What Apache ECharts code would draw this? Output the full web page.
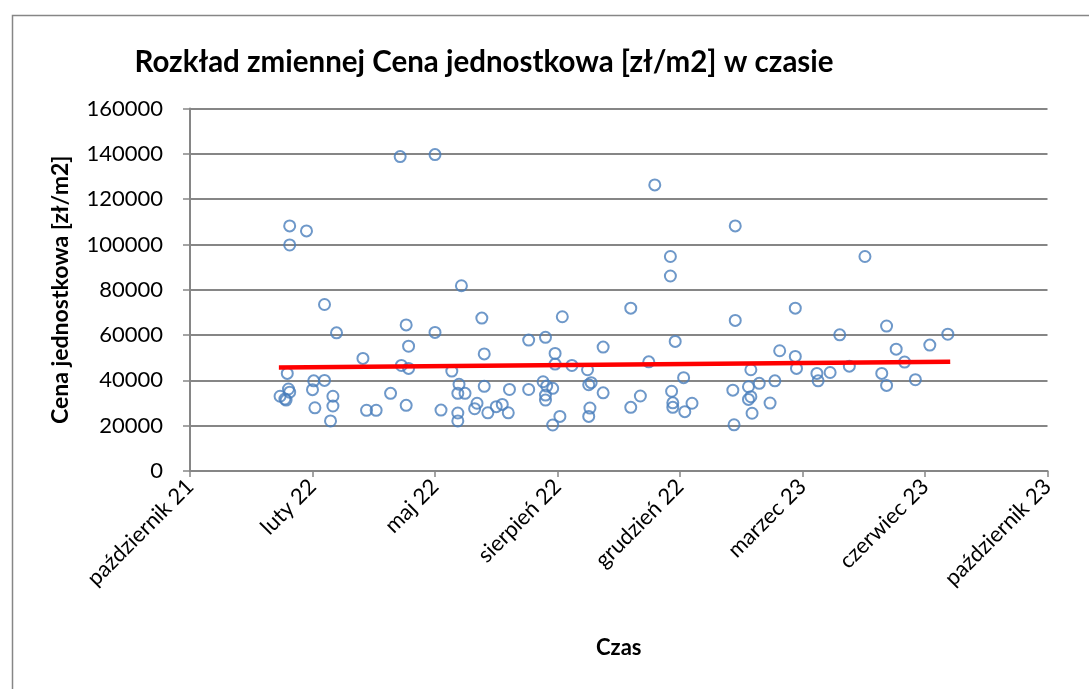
<!DOCTYPE html>
<html>
<head>
<meta charset="utf-8">
<script src="https://cdn.jsdelivr.net/npm/echarts@6/dist/echarts.min.js"></script>
<style>
html,body{margin:0;padding:0;background:#fff;}
#chart{width:1089px;height:689px;}
</style>
</head>
<body>
<div id="chart"></div>
<script>
// Daty ofert (oś X) i ceny jednostkowe [zł/m2] (oś Y)
const dates = [
 '2022-01-08','2022-01-12','2022-01-13','2022-01-15','2022-01-16','2022-01-14','2022-01-16','2022-01-16','2022-01-30','2022-02-04',
 '2022-02-05','2022-02-06','2022-02-14','2022-02-14','2022-02-19','2022-02-21','2022-02-21','2022-02-24','2022-03-18','2022-03-21',
 '2022-03-29','2022-04-10','2022-04-18','2022-04-19','2022-04-23','2022-04-23','2022-04-25','2022-04-25','2022-05-17','2022-05-17',
 '2022-05-22','2022-05-31','2022-06-06','2022-06-05','2022-06-05','2022-06-05','2022-06-08','2022-06-11','2022-06-19','2022-06-21',
 '2022-06-25','2022-06-27','2022-06-27','2022-06-30','2022-07-07','2022-07-12','2022-07-17','2022-07-18','2022-08-03','2022-08-03',
 '2022-08-15','2022-08-17','2022-08-18','2022-08-17','2022-08-17','2022-08-23','2022-08-23','2022-08-25','2022-08-25','2022-08-29',
 '2022-08-31','2022-09-08','2022-09-21','2022-09-22','2022-09-24','2022-09-22','2022-09-23','2022-10-04','2022-10-04','2022-10-27',
 '2022-10-27','2022-11-04','2022-11-11','2022-11-16','2022-11-29','2022-11-29','2022-11-30','2022-12-01','2022-12-01','2022-12-03',
 '2022-12-10','2022-12-11','2022-12-17','2023-01-20','2023-01-21','2023-01-22','2023-01-22','2023-02-02','2023-02-02','2023-02-04',
 '2023-02-04','2023-02-05','2023-02-11','2023-02-20','2023-02-24','2023-02-28','2023-03-13','2023-03-13','2023-03-14','2023-03-31',
 '2023-04-01','2023-04-11','2023-04-19','2023-04-27','2023-05-10','2023-05-24','2023-05-28','2023-05-28','2023-06-05','2023-06-12',
 '2023-06-21','2023-07-03','2023-07-18'
];
const prices = [
 33000,31800,31300,36200,34800,43100,99800,108200,106000,35900,
 39800,27900,73500,40000,22100,33000,28700,61000,49700,26800,
 26800,34300,138800,46600,29000,64500,55100,45300,61200,139700,
 26900,44100,38300,34300,25600,22100,81800,34300,27500,29900,
 67500,51700,37400,25700,28400,29400,25700,36000,57800,36000,
 39400,59000,37500,33500,31300,20300,36500,51900,47200,24100,
 68100,46600,44700,38100,39000,24100,27800,54700,34500,71900,
 28100,33100,48200,126300,94700,86100,35200,30100,28100,57200,
 41200,26200,29900,35700,20400,108200,66500,31600,37200,44700,
 32800,25500,38700,30000,39800,53100,71900,50600,45300,43100,
 39800,43500,60100,46300,94700,43100,64000,37800,53800,48100,
 40300,55600,60400
];
// Linia trendu (odczytane końce)
const trendDates = ['2022-01-07', '2023-07-20'];
const trendValues = [45700, 48200];
// Etykiety osi X
const axisStart = '2021-10-25';
const tickStepDays = 102;
const xTickLabels = ['październik 21','luty 22','maj 22','sierpień 22','grudzień 22','marzec 23','czerwiec 23','październik 23'];
const yTicks = [0,20000,40000,60000,80000,100000,120000,140000,160000];

const DAY = 86400000;
const base = Date.parse(axisStart + 'T00:00:00Z');
const toDays = d => (Date.parse(d + 'T00:00:00Z') - base) / DAY;

const scatterData = dates.map((d, i) => [toDays(d), prices[i]]);
const trendData = trendDates.map((d, i) => [toDays(d), trendValues[i]]);

const FONT = 'Lato';
const chart = echarts.init(document.getElementById('chart'), null, {renderer: 'canvas'});
chart.setOption({
  backgroundColor: '#fff',
  animation: false,
  graphic: [{
    type: 'rect',
    shape: {x: 12.5, y: 15.5, width: 1200, height: 800},
    style: {fill: 'none', stroke: '#868686', lineWidth: 1.5},
    silent: true, z: -10
  }],
  title: {
    text: 'Rozkład zmiennej Cena jednostkowa [zł/m2] w czasie',
    left: 479, top: 42, textAlign: 'center',
    textStyle: {fontFamily: FONT, fontWeight: 'bold', fontSize: 29.5, color: '#000'}
  },
  grid: {left: 190, right: 41.5, top: 108.6, bottom: 218, containLabel: false},
  xAxis: {
    type: 'value',
    min: 0, max: tickStepDays * (xTickLabels.length - 1), interval: tickStepDays,
    name: 'Czas', nameLocation: 'middle', nameGap: 166,
    nameTextStyle: {fontFamily: FONT, fontWeight: 'bold', fontSize: 22, color: '#000'},
    axisLine: {show: true, onZero: false, lineStyle: {color: '#868686', width: 2}},
    axisTick: {show: true, length: 6, lineStyle: {color: '#868686', width: 1.5}},
    splitLine: {show: false},
    axisLabel: {
      rotate: 45, margin: 12, color: '#000', fontFamily: FONT, fontSize: 22,
      formatter: v => xTickLabels[Math.round(v / tickStepDays)] || ''
    }
  },
  yAxis: {
    type: 'value',
    min: yTicks[0], max: yTicks[yTicks.length - 1], interval: yTicks[1] - yTicks[0],
    name: 'Cena jednostkowa [zł/m2]', nameLocation: 'middle', nameGap: 118,
    nameTextStyle: {fontFamily: FONT, fontWeight: 'bold', fontSize: 23, color: '#000'},
    axisLine: {show: true, lineStyle: {color: '#868686', width: 2}},
    axisTick: {show: true, length: 7, lineStyle: {color: '#868686', width: 1.5}},
    splitLine: {show: true, lineStyle: {color: '#868686', width: 2}},
    axisLabel: {margin: 27, color: '#000', fontFamily: FONT, fontSize: 22, formatter: v => String(v)}
  },
  series: [{
    type: 'scatter',
    data: scatterData,
    symbol: 'circle',
    symbolSize: 11,
    itemStyle: {color: 'rgba(255,255,255,0)', borderColor: '#4a7ebb', borderWidth: 2}
  }, {
    type: 'line',
    data: trendData,
    symbol: 'none',
    lineStyle: {color: '#ff0000', width: 4.5},
    z: 3
  }]
});
</script>
</body>
</html>
